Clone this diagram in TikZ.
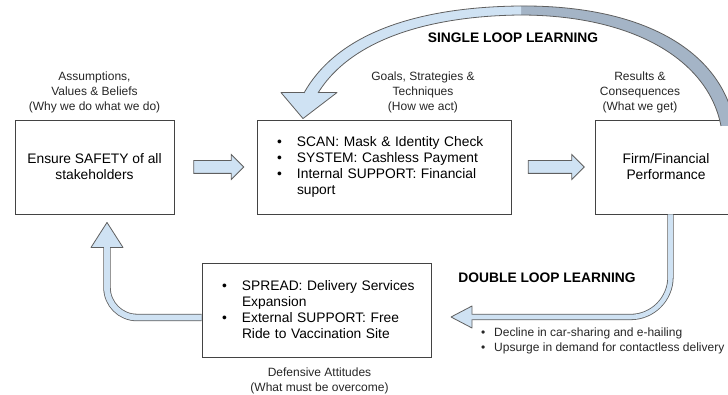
\documentclass[tikz,border=0pt]{standalone}
\usepackage{fontspec}
\setmainfont{Liberation Sans}
\usetikzlibrary{positioning}
\usetikzlibrary{calc}
\usetikzlibrary{shapes.arrows}
\definecolor{boxline}{RGB}{67,67,67}
\definecolor{arrowfill}{RGB}{207,226,243}
\definecolor{arrowline}{RGB}{95,95,95}
\definecolor{loopback}{RGB}{164,180,198}
\newcommand{\bul}{\hspace*{8pt}\makebox[20pt][l]{\textbullet}}
\newcommand{\cont}{\hspace*{28pt}}
\newcommand{\smallbul}{\makebox[13pt][l]{\textbullet}}

\begin{document}
\begin{tikzpicture}[x=1pt, y=1pt,
    box/.style={draw=boxline, line width=0.9pt, minimum height=94pt, inner sep=0pt, align=center, font=\fontsize{13.8}{16}\selectfont},
    listbox/.style={box, align=left, inner xsep=12pt},
    tag/.style={align=center, inner sep=0pt, text=black!85, font=\fontsize{12}{15}\selectfont},
    heading/.style={inner sep=0pt, font=\fontsize{13.8}{16}\selectfont\bfseries},
    flatarrow/.style={single arrow, draw=arrowline, fill=arrowfill, line width=0.8pt, text height=6pt, text depth=6pt, single arrow head extend=6pt, inner sep=0pt},
    shaftedge/.style={arrowline, line width=7.4pt},
    shaftfill/.style={arrowfill, line width=5.8pt},
    thinedge/.style={arrowline, line width=6.2pt},
    thinfill/.style={arrowfill, line width=4.6pt},
    tipshape/.style={draw=arrowline, fill=arrowfill, line width=0.8pt, line join=round}]

    \useasboundingbox (0,0) rectangle (728,394);
    \clip (0,0) rectangle (728,394);

    % the three boxes of the top row
    \node[box, minimum width=159pt] (safety) at (94.5,227) {Ensure SAFETY of all\\stakeholders};
    \node[listbox, text width=230pt] (goals) at (384,227) {\bul SCAN: Mask \& Identity Check\\
        \bul SYSTEM: Cashless Payment\\
        \bul Internal SUPPORT: Financial\\
        \cont suport};
    \node[box, minimum width=142pt] (firm) at (666,227) {Firm/Financial\\Performance};

    % defensive attitudes box
    \node[listbox, text width=205pt] (def) at (316.5,84) {\bul SPREAD: Delivery Services\\
        \cont Expansion\\
        \bul External SUPPORT: Free\\
        \cont Ride to Vaccination Site};

    % captions
    \node[tag, above=6pt of safety] (whylbl) {Assumptions,\\Values \& Beliefs\\(Why we do what we do)};
    \node[tag, above=6pt of goals, xshift=39pt] (howlbl) {Goals, Strategies \&\\Techniques\\(How we act)};
    \node[tag, above=6pt of firm, xshift=-26pt] (whatlbl) {Results \&\\Consequences\\(What we get)};
    \node[tag, below=10pt of def, xshift=3pt] (mustlbl) {Defensive Attitudes\\(What must be overcome)};

    \node[heading] (sll) at (513,356) {SINGLE LOOP LEARNING};
    \node[heading] (dll) at (547,116) {DOUBLE LOOP LEARNING};
    \node[tag, align=left, anchor=west] (trend) at (481,53.5) {\smallbul Decline in car-sharing and e-hailing\\
        \smallbul Upsurge in demand for contactless delivery};

    % straight arrows along the top row
    \node[flatarrow, minimum height=50pt] (ar1) at ($(safety.east)!0.5!(goals.west)$) {};
    \node[flatarrow, minimum height=56pt] (ar2) at ($(goals.east)!0.5!(firm.west)$) {};

    % defensive attitudes back up to the assumptions
    \coordinate (upfoot) at ([yshift=-7.5pt]def.west);
    \coordinate (uphead) at ([xshift=12.5pt,yshift=-33pt]safety.south);
    \coordinate (uptip) at ([xshift=12.5pt,yshift=-8pt]safety.south);
    \draw[shaftedge, rounded corners=30pt] (upfoot) -| (uphead);
    \filldraw[tipshape] ([xshift=-16pt]uphead) -- (uptip) -- ([xshift=16pt]uphead) -- cycle;
    \draw[shaftfill, rounded corners=30pt] (upfoot) -| ([yshift=1.5pt]uphead);

    % double loop: results down to the defensive attitudes
    \coordinate (dlfoot) at ([xshift=4.5pt]firm.south);
    \coordinate (dlhead) at (472,77);
    \coordinate (dltip) at (451,77);
    \draw[thinedge, rounded corners=40pt] (dlfoot) |- (dlhead);
    \filldraw[tipshape] ([yshift=11pt]dlhead) -- (dltip) -- ([yshift=-11pt]dlhead) -- cycle;
    \draw[thinfill, rounded corners=40pt] (dlfoot) |- ([xshift=-1.5pt]dlhead);

    % single loop: the big arc from results back to the strategies
    \coordinate (sltip) at ([xshift=-81pt,yshift=1pt]goals.north);
    \filldraw[tipshape] ($(sltip)+(-22,26)$) -- (sltip) -- ($(sltip)+(34,26)$) -- cycle;
    \fill[loopback] (520,388) .. controls (640,389) and (722,345) .. (735,268)
        -- (721,268) .. controls (708,335) and (632,379) .. (520,379) -- cycle;
    \fill[arrowfill] (304,299) -- (304,301) .. controls (338,362) and (420,387) .. (521,388)
        -- (521,379) .. controls (432,378) and (352,356) .. (318,301) -- (319,299) -- cycle;
    \draw[arrowline, line width=0.8pt] (304,301) .. controls (338,362) and (420,387) .. (520,388)
        .. controls (640,389) and (722,345) .. (735,268);
    \draw[arrowline, line width=0.8pt] (318,301) .. controls (352,356) and (432,378) .. (520,379)
        .. controls (632,379) and (708,335) .. (721,268);
\end{tikzpicture}
\end{document}
